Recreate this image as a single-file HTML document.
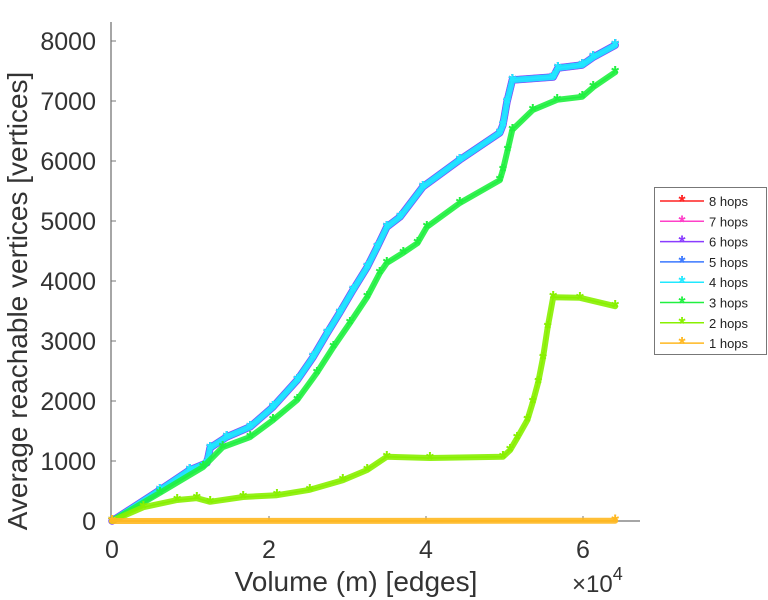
<!DOCTYPE html>
<html><head><meta charset="utf-8"><style>
body{margin:0;background:#fff;}
svg{display:block;font-family:"Liberation Sans",sans-serif;}
</style></head><body>
<svg id="chart" width="768" height="600"></svg>
<script>
const xTicks=[0,2,4,6];
const yTicks=[0,1000,2000,3000,4000,5000,6000,7000,8000];
const topX=[0,6.1,9.9,12.1,12.5,14.6,17.6,20.5,23.6,25.6,27.4,29.0,30.7,32.5,33.8,35.0,36.7,39.6,44.3,49.4,49.8,50.3,51.0,56.2,56.8,59.9,61.3,64.1];
const topY=[0,517,850,970,1220,1400,1570,1900,2350,2730,3130,3470,3850,4230,4570,4900,5070,5570,6020,6470,6600,6980,7350,7400,7550,7600,7730,7930];
const h3X=[0,6.1,11.6,14.1,17.6,20.5,23.6,26.1,28.2,30.3,32.5,34.1,35.0,37.1,38.9,40.1,44.3,49.4,49.8,50.4,51.0,53.6,56.7,59.9,61.3,64.1];
const h3Y=[0,470,900,1230,1400,1680,2020,2470,2900,3300,3730,4130,4300,4470,4630,4900,5300,5680,5850,6180,6520,6850,7020,7070,7230,7480];
const h2X=[0,4.0,8.3,10.8,12.5,16.7,21.0,25.2,29.4,32.5,35.0,40.5,49.8,50.7,51.6,52.9,53.6,54.3,54.9,55.5,56.2,59.6,64.1];
const h2Y=[0,230,350,380,320,400,430,520,680,850,1070,1050,1070,1180,1380,1680,1980,2320,2720,3230,3730,3720,3580];
const h1X=[0,64.1];
const h1Y=[0,5];
const labels=["8 hops","7 hops","6 hops","5 hops","4 hops","3 hops","2 hops","1 hops"];
const colors=["#ff2020","#ff40c8","#8a3cff","#3a78ff","#20e8ff","#20f040","#88f000","#ffb820"];

const NS="http://www.w3.org/2000/svg";
const svg=document.getElementById('chart');
const X0=112,XS=7.85,Y0=521,YS=0.06;
function sx(v){return X0+v*XS;}
function sy(v){return Y0-v*YS;}
function mk(tag,attrs,parent){const e=document.createElementNS(NS,tag);for(const k in attrs)e.setAttribute(k,attrs[k]);(parent||svg).appendChild(e);return e;}

const ya=mk('line',{x1:111,y1:22,x2:111,y2:521,stroke:'#888','stroke-width':1.5});


const xa=mk('line',{x1:111,y1:521,x2:640,y2:521,stroke:'#888','stroke-width':1.5});


yTicks.forEach(v=>{
  mk('line',{x1:111,y1:sy(v),x2:116,y2:sy(v),stroke:'#777'});
  const t=mk('text',{x:96,y:sy(v)+9,'text-anchor':'end','font-size':25,fill:'#333'});
  t.textContent=v;
  
  
});
xTicks.forEach(v=>{
  mk('line',{x1:sx(v*10),y1:521,x2:sx(v*10),y2:516,stroke:'#777'});
  const t=mk('text',{x:sx(v*10),y:558,'text-anchor':'middle','font-size':25,fill:'#333'});
  t.textContent=v;
  
  
});
const xl=mk('text',{x:356,y:591,'text-anchor':'middle','font-size':28,fill:'#333'});
xl.textContent='Volume (m) [edges]';


const xe=mk('text',{x:572,y:592,'font-size':24,fill:'#333'});
xe.innerHTML='×10<tspan dy="-12" font-size="18">4</tspan>';


const yl=mk('text',{x:0,y:0,'text-anchor':'middle','font-size':28,fill:'#333',transform:'translate(27,301) rotate(-90)'});
yl.textContent='Average reachable vertices [vertices]';



function series(xs,ys,color,w,name){
  const g=mk('g',{});
  
  
  const pts=xs.map((x,i)=>sx(x).toFixed(1)+','+sy(ys[i]).toFixed(1)).join(' ');
  mk('polyline',{points:pts,fill:'none',stroke:color,'stroke-width':w,'stroke-linejoin':'round','stroke-linecap':'round','stroke-opacity':0.9},g);
  mk('polyline',{points:pts,fill:'none',stroke:color,'stroke-width':1.5},g);
  xs.forEach((x,i)=>{
    const c=mk('text',{x:sx(x),y:sy(ys[i])+8,'text-anchor':'middle','font-size':20,'font-weight':'bold',fill:color},g);
    c.textContent='*';
    
    
  });
}
series(topX,topY,colors[0],7,'series-8-hops');
series(topX,topY,colors[1],7,'series-7-hops');
series(topX,topY,colors[2],7.5,'series-6-hops');
series(topX,topY,colors[3],6.5,'series-5-hops');
series(topX,topY,colors[4],6,'series-4-hops');
series(h3X,h3Y,colors[5],6,'series-3-hops');
series(h2X,h2Y,colors[6],6,'series-2-hops');
series(h1X,h1Y,colors[7],6,'series-1-hops');

const lg=mk('g',{});


mk('rect',{x:654.5,y:187.5,width:112,height:167,fill:'#fff',stroke:'#777'},lg);
labels.forEach((l,i)=>{
  const y=201+i*20.3;
  const e=mk('g',{},lg);
  
  
  mk('line',{x1:660,y1:y,x2:704,y2:y,stroke:colors[i],'stroke-width':1.5},e);
  const m=mk('text',{x:682,y:y+7,'text-anchor':'middle','font-size':18,fill:colors[i],'font-weight':'bold'},e);
  m.textContent='*';
  const t=mk('text',{x:709,y:y+5,'font-size':13,fill:'#222'},e);
  t.textContent=l;
});
</script>
</body></html>
